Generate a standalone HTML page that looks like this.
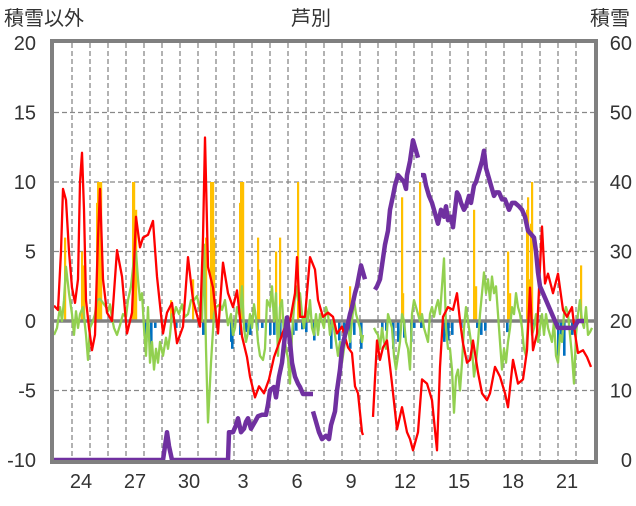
<!DOCTYPE html>
<html><head><meta charset="utf-8"><style>
html,body{margin:0;padding:0;background:#fff;}
svg text{font-family:"Liberation Sans","Noto Sans CJK JP",sans-serif;fill:#333;}
</style></head><body>
<svg id="chart" width="636" height="501" viewBox="0 0 636 501" xmlns="http://www.w3.org/2000/svg">
<text x="311" y="25" font-size="20" text-anchor="middle">芦別</text>
<text x="4" y="25" font-size="20">積雪以外</text>
<text x="590" y="25" font-size="20">積雪</text>
<g id="grid"></g><g id="bars"></g><g id="lines"></g><g id="frame"></g><g id="labels"></g>
</svg>
<script>
// time measured in 80-minute periods from day-23 00:00 (18 periods per day)
const leftTicks=[-10,-5,0,5,10,15,20];
const rightTicks=[0,10,20,30,40,50,60];
const dayLabels=["24","27","30","3","6","9","12","15","18","21"];
const dayLabelIndex=[1,4,7,10,13,16,19,22,25,28];
const redPeriod=[0,4,7,9,12,15,18,21,24,26,28,30,32,35,38,41,44,46,49,53,58,63,68,73,78,82,86,89,94,99,103,109,113,118,123,129,134,139,146,149,151,154,159,164,169,174,179,183,188,193,196,201,205,210,215,220,225,230,236,241,243,246,251,256,261,264,269,274,279,283,288,294,298,301,304,308,309,null,319,323,326,329,333,338,343,348,353,356,359,364,368,373,378,383,386,389,394,399,403,406,409,413,416,419,424,428,433,436,441,446,451,454,459,464,469,473,476,479,483,486,488,491,494,499,504,509,513,518,521,524,529,533,537];
const redValue=[1.1,0.8,5,9.5,8.7,5,2.4,1.3,3,10,12.1,8,1.5,-0.5,-2.1,-1,6,9.5,3,0.6,0,5.1,3.2,-0.9,0.6,7.5,5.3,6,6.2,7.2,3.2,-0.9,0.6,1.3,-1.6,-0.4,4.6,1.5,-0.4,6,13.2,3.9,2.4,-0.9,4.2,2,1,2.2,-1.1,-2.6,-4,-5.5,-4.7,-5.2,-4.2,-2.6,-1.6,-0.6,0,2,4.6,0.3,0.3,4.6,3.7,1.5,0.3,0.6,0.3,-0.9,-0.4,-1.9,-2.3,-4.7,-5.2,-8,-8.2,null,-6.9,-1.4,-2.8,-1.9,-1.4,-4.5,-7.8,-6.2,-8,-8.5,-9.3,-8,-4.2,-4.5,-5.7,-9.3,-3.3,0.3,1,0.8,2,0,-1.6,-3,-2.8,-1.4,-3.7,-5.2,-5.7,-5.2,-3.3,-4,-5.2,-6.2,-2.8,-4.5,-4.2,-2.1,2.4,-2.1,-0.9,3.9,6.8,2.7,3.4,2,3.4,0.8,0.3,1,-0.9,-2.3,-2.1,-2.6,-3.3];
const greenPeriod=[0,3,6,8,10,12,15,18,20,22,24,26,29,32,34,36,39,41,43,46,49,52,54,56,58,60,63,66,69,72,74,77,80,82,84,86,88,90,92,94,96,98,100,102,104,106,109,112,114,116,118,120,122,125,128,131,134,137,140,143,146,148,150,152,154,157,160,162,166,168,171,174,177,179,181,183,186,188,190,192,194,196,198,200,202,204,206,209,211,213,216,218,220,222,224,226,228,230,232,234,236,238,240,242,244,246,248,250,252,254,256,258,260,262,264,266,268,270,272,274,276,278,280,282,284,286,288,290,292,294,296,298,300,302,304,306,308,309,null,320,322,324,326,328,330,332,334,336,338,340,342,344,346,348,350,352,354,356,358,360,362,364,366,368,370,372,374,376,378,380,382,384,386,388,390,392,394,396,398,400,402,404,406,408,410,412,414,416,418,420,422,424,426,428,430,432,434,436,438,440,442,444,446,448,450,452,454,456,458,460,462,464,466,468,470,472,474,476,478,480,482,484,486,488,490,492,494,496,498,500,502,504,506,508,510,512,514,516,518,520,522,524,526,528,530,532,534,536,538];
const greenValue=[-1,-0.5,1,0,1.5,3.9,2,0.5,-1,0.7,-0.5,0.5,1,-1,-2.8,-0.5,0,0.5,1.5,1.6,1.3,1,0.7,1.2,0.2,-0.5,-1,-0.3,0.5,0.3,1.5,2.5,4.5,5,3,1.5,2,-0.5,-2.5,1,-3,-1.5,-3.5,-2,-3,-1.5,-2.5,-1.2,-2,-1,0.5,0.5,1,0.5,1.2,0.3,0.5,1.5,1.5,1.8,0.8,0,5.5,-2,-7.3,-3,0.5,1,1.2,0.8,1.5,-0.3,0.5,-1,-0.5,1,0.3,2.5,-0.5,-1.5,-0.8,0.5,-0.5,1.2,0.2,-1.5,-2.5,-2.8,-2,1.5,1,2.5,0,2,-2.5,1,1.5,-1,-2,-2.7,-4.5,-1,1,2.5,1.5,2,0.5,-0.5,1,0,1.5,-0.5,-1,0.5,-1,0.5,0,-0.5,1,0.5,-1,0,-0.5,-1.5,-2.5,-1.5,-3,-2,-1,-0.5,-1.5,0,1.5,0.5,0,-0.5,-1.5,-1,null,-0.5,-0.8,-1,-2,-0.5,-1.5,-2,0.5,0,-0.5,-2.5,-3.5,-2.5,-1.5,0.5,0,-1.5,-2,-3.5,0.5,1.5,1,0.5,0,0.5,-0.5,-1,-1.5,0.5,1,0.3,1,1.5,0.5,2.5,4.5,-0.5,-2,-2,-3.5,-6.6,-4,-3.5,-5,-3,-0.5,1,0,-1,-2,-4,-3,-1.5,0.5,2,3.5,2,3,1.5,3.2,2,2.5,0.5,-1.5,-3.5,-2,-3,-1.5,-0.5,1,0.5,2,1,0.5,-0.5,-2,-2.5,0,1.5,-1,-0.5,0.5,-1.5,-0.5,0.5,-1,0.5,-0.5,-1,-1.5,0,-2.5,-3,-1,-1.5,0.5,1,0.5,-1,-2.5,-4.5,-1,0.5,1.5,0,-0.5,1,-1,-0.8,-0.5];
const snowPeriod=[0,109,111,113,115,118,174,175,179,182,184,187,190,192,194,197,201,204,208,212,214,216,220,222,225,228,231,233,236,238,241,244,246,249,253,259,null,259,262,265,268,272,275,277,281,283,286,288,291,293,296,298,301,303,305,307,309,311,null,321,323,326,329,331,334,336,339,341,344,347,350,352,353,356,359,361,364,null,367,370,372,375,378,381,384,387,390,392,394,397,399,401,403,405,407,410,412,415,417,420,422,425,428,430,432,435,437,440,442,445,448,451,455,458,461,465,468,471,474,477,480,482,484,486,489,492,495,498,501,504,508,512,516,520,524,526,530,534,538];
const snowValue=[0,0,2,4,2,0,0,4,4,5,6,4,4.5,5.5,6,4.5,5.5,6.3,6.5,6.5,8,10,10.5,9,12,14,18,20.5,17,14,12,11,10.5,9.5,9.5,9.5,null,7,5.5,4,3,3.5,3,5,7,10,13,16,18,19,21,22,24,25,26.5,28,27,26,null,24.5,25,26,29,31,33,36,38,39.5,41,40.5,40,39,41,43,46,45,43.5,null,41,41,39.5,38,37,35.5,34,36,35,36.5,34.5,35,33.5,36,38.5,38,37,36,36.5,38,37,39.5,40,41.5,43,44.5,42,40.5,39.5,38,38.5,38.5,37.5,37.5,36,37,37,36.5,36,35,33,32.5,32,30,27,25,24,23,22,21,20,19,19,19,19,19,20,20,20];
const rainPeriod=[11,28,30,43,44,46,47,79,80,82,117,139,152,157,158,159,160,186,187,188,189,204,205,222,226,244,296,348,349,366,420,422,454,456,473,474,476,477,478,527];
const rainValue=[6,5,4,8.5,10,10,10,10,10,8,1.5,3,6,10,8,10,6,8.5,10,10,10,6,3.7,5,6,10,2.5,8.9,2,10,8,2.5,5,2,8,8.9,3,7,10,4];
const negPeriod=[92,97,101,122,149,163,177,178,186,192,196,203,208,216,220,226,234,239,242,248,252,260,264,277,285,290,296,300,307,328,332,339,344,350,357,360,367,390,394,398,407,423,427,431,453,479,504,507,510,518];
const negValue=[-1.5,-2,-0.5,-0.5,-1,-0.3,-1.5,-2,-1,-0.8,-1,-0.7,-0.5,-1,-1,-1.2,-1,-1,-0.7,-0.6,-0.8,-1.4,-0.7,-2,-1.4,-1,-2,-1,-2,-1,-0.7,-2,-1.5,-1.2,-1.5,-0.5,-0.5,-1.5,-1.4,-1,-0.5,-0.5,-1,-0.7,-0.8,-0.5,-2.5,-1,-2.5,-1];

const NS='http://www.w3.org/2000/svg';
const X0=54,X1=594,Y_TOP=43,Y_BOT=460,TOTAL=540;
const xS=p=>X0+p*(X1-X0)/TOTAL;
const yL=v=>Y_BOT-(v+10)*(Y_BOT-Y_TOP)/30;
const yR=v=>Y_BOT-v*(Y_BOT-Y_TOP)/60;
function mk(tag,attrs,parent){const e=document.createElementNS(NS,tag);for(const k in attrs)e.setAttribute(k,attrs[k]);parent.appendChild(e);return e;}
const grid=document.getElementById('grid'),bars=document.getElementById('bars'),lines=document.getElementById('lines'),frame=document.getElementById('frame'),labels=document.getElementById('labels');
leftTicks.forEach(t=>{if(t===-10||t===20||t===0)return;
 const l=mk('line',{x1:X0,x2:X1,y1:yL(t),y2:yL(t),stroke:'#888','stroke-width':1.3,'stroke-dasharray':'5,3'},grid);
 
 });
for(let d=1;d<30;d++){const l=mk('line',{x1:xS(d*18),x2:xS(d*18),y1:Y_TOP,y2:Y_BOT,stroke:'#888','stroke-width':1.3,'stroke-dasharray':'5,3'},grid);
 
 }
rainPeriod.forEach((p,i)=>{const r=mk('rect',{x:xS(p)-1,y:yL(rainValue[i]),width:2.2,height:yL(0)-yL(rainValue[i]),fill:'#FFC000'},bars);
 
 });
negPeriod.forEach((p,i)=>{const r=mk('rect',{x:xS(p)-1,y:yL(0),width:2.6,height:yL(negValue[i])-yL(0),fill:'#0070C0'},bars);
 
 });
const z=mk('line',{x1:X0,x2:X1,y1:yL(0),y2:yL(0),stroke:'#808080','stroke-width':3.5},bars);


function path(P,V,ys){let d='',pen=false;P.forEach((p,i)=>{if(p===null||V[i]===null){pen=false;return;}d+=(pen?'L':'M')+xS(p).toFixed(1)+','+ys(V[i]).toFixed(1);pen=true;});return d;}
const g=mk('path',{d:path(greenPeriod,greenValue,yL),fill:'none',stroke:'#92D050','stroke-width':2.3,'stroke-linejoin':'round'},lines);


const r=mk('path',{d:path(redPeriod,redValue,yL),fill:'none',stroke:'#FF0000','stroke-width':2.3,'stroke-linejoin':'round'},lines);


const s=mk('path',{d:path(snowPeriod,snowValue,yR),fill:'none',stroke:'#7030A0','stroke-width':4.5,'stroke-linejoin':'round'},lines);


const f=mk('rect',{x:X0-2,y:Y_TOP-2,width:X1-X0+4,height:Y_BOT-Y_TOP+4,fill:'none',stroke:'#808080','stroke-width':4},frame);


leftTicks.forEach(t=>{const e=mk('text',{x:36,y:yL(t)+7,'font-size':20,'text-anchor':'end'},labels);e.textContent=t;
 
 });
rightTicks.forEach(t=>{const e=mk('text',{x:632,y:yR(t)+7,'font-size':20,'text-anchor':'end'},labels);e.textContent=t;
 
 });
dayLabels.forEach((t,i)=>{const e=mk('text',{x:xS(dayLabelIndex[i]*18+9),y:488,'font-size':20,'text-anchor':'middle'},labels);e.textContent=t;
 
 });
</script>
</body></html>
